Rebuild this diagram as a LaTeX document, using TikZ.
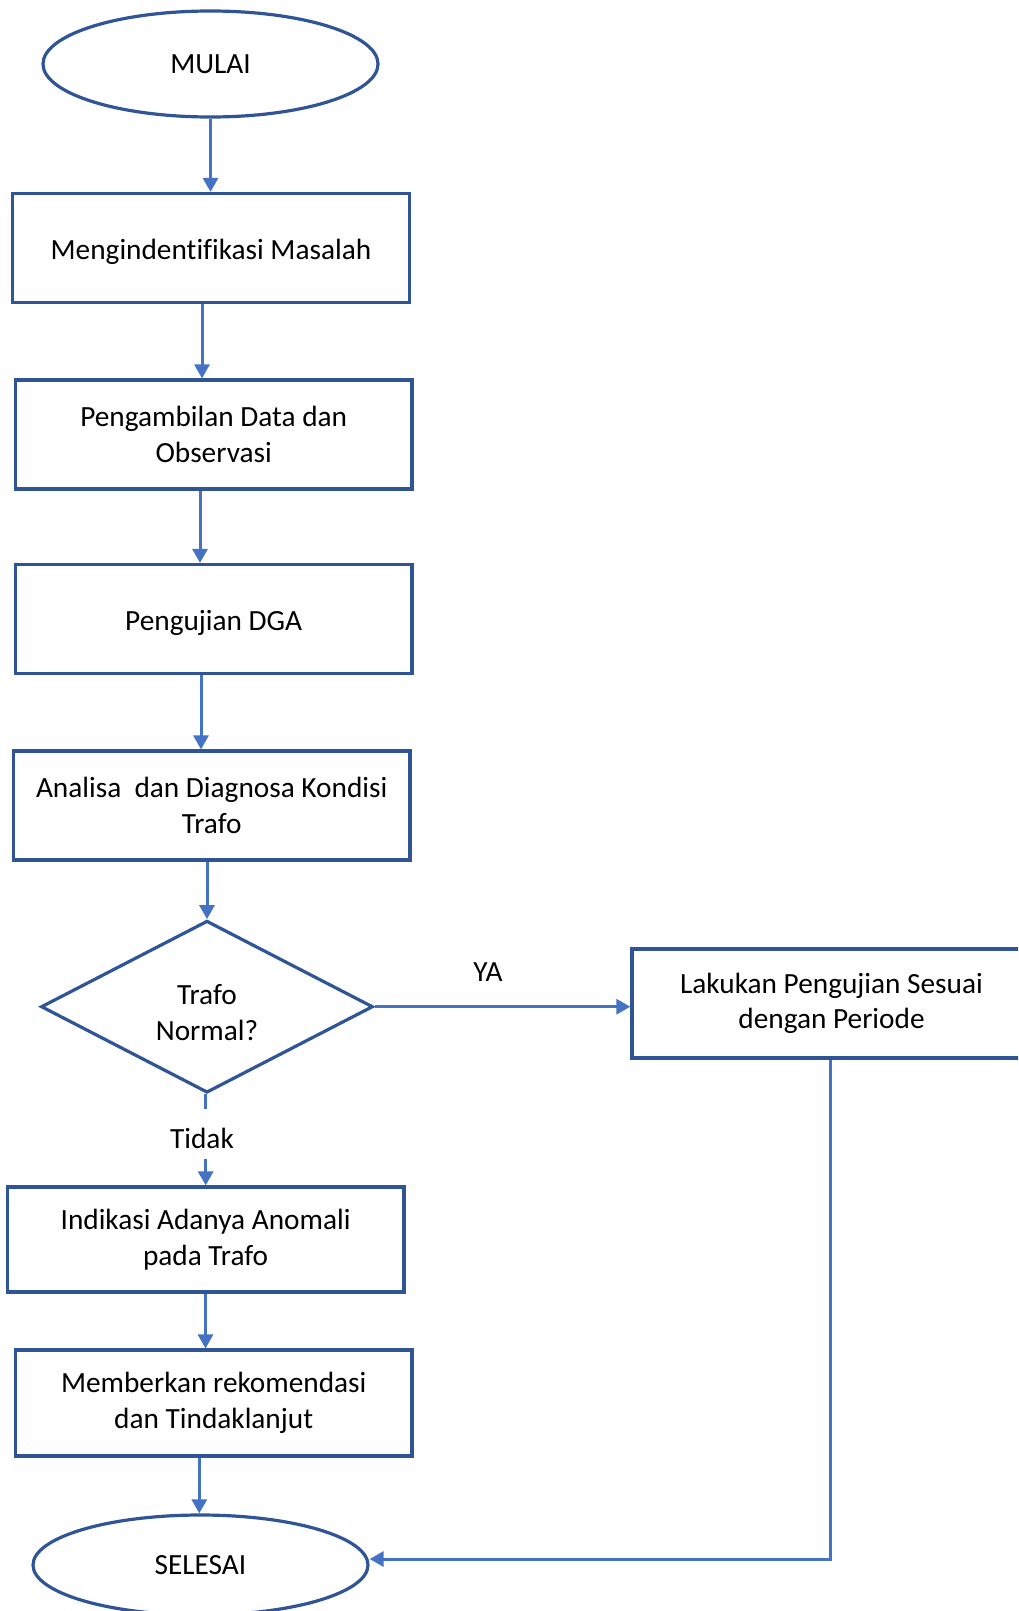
\documentclass[tikz,border=0pt]{standalone}
\usepackage{fontspec}
\setmainfont[Ligatures=NoCommon]{Carlito}
\usetikzlibrary{shapes.geometric,arrows.meta,calc}
\definecolor{boxblue}{HTML}{2F5597}
\definecolor{lineblue}{HTML}{4472C4}
\begin{document}
\begin{tikzpicture}[x=1pt,y=-1pt,
  font=\fontsize{29.3}{35.5}\selectfont,
  box/.style={draw=boxblue, line width=3.2pt, rectangle, inner sep=0pt, align=center, minimum width=396.6pt, minimum height=109pt},
  oval/.style={draw=boxblue, line width=3.2pt, ellipse, inner sep=0pt, minimum width=335pt, minimum height=106pt},
  decision/.style={draw=boxblue, line width=3.2pt, diamond, inner sep=0pt, aspect=1.93, minimum width=332pt, minimum height=172pt},
  arr/.style={draw=lineblue, line width=3pt, -{Triangle[length=14pt,width=15pt]}},
  ln/.style={draw=lineblue, line width=3pt},
  lbl/.style={inner sep=0pt},
  oneline/.style={text height=22pt, text depth=0pt}]
\useasboundingbox (0,0) rectangle (1018,1611);
\clip (0,0) rectangle (1018,1611);

\node[oval] (mulai) at (210.5,64) {MULAI};
\node[box, oneline] (b1) at (211,248) {Mengindentifikasi Masalah};
\node[box] (b2) at (213.7,434.5) {Pengambilan Data dan\\Observasi};
\node[box, oneline] (b3) at (213.7,619) {Pengujian DGA};
\node[box] (b4) at (211.7,805.5) {Analisa\ \ dan Diagnosa Kondisi\\Trafo};
\node[decision] (dec) at (207,1006.7) {};
\node[lbl, align=center] (dectext) at (207,1012.5) {Trafo\\Normal?};
\node[box, minimum width=399pt] (rb) at (831.5,1003.5) {Lakukan Pengujian Sesuai\\dengan Periode};
\node[box, minimum height=105pt] (b5) at (205.6,1239.5) {Indikasi Adanya Anomali\\pada Trafo};
\node[box, minimum height=106pt] (b6) at (213.7,1403) {Memberkan rekomendasi\\dan Tindaklanjut};
\node[oval, minimum height=100pt] (selesai) at (200.5,1565) {SELESAI};

\node[lbl] (ya) at (488,972) {YA};
\node[lbl, text height=28pt, text depth=0pt, minimum height=49pt] (tidak) at (202,1134) {Tidak};

\coordinate (corner) at (830,1559);

\draw[arr] (mulai.south) -- (mulai.south |- b1.north);
\draw[arr] (202,0 |- b1.south) -- (202,0 |- b2.north);
\draw[arr] (200,0 |- b2.south) -- (200,0 |- b3.north);
\draw[arr] (201,0 |- b3.south) -- (201,0 |- b4.north);
\draw[arr] (207,0 |- b4.south) -- (dec.north);
\draw[arr] (dec.east) -- (dec.east -| rb.west);
\draw[ln] (205.7,0 |- dec.south) -- (205.7,0 |- tidak.north);
\draw[arr] (205.7,0 |- tidak.south) -- (205.7,0 |- b5.north);
\draw[arr] (205.5,0 |- b5.south) -- (205.5,0 |- b6.north);
\draw[arr] (199.3,0 |- b6.south) -- (199.3,0 |- selesai.north);
\draw[arr] (rb.south -| corner) -- (corner) -- (selesai.east |- corner);
\end{tikzpicture}
\end{document}
